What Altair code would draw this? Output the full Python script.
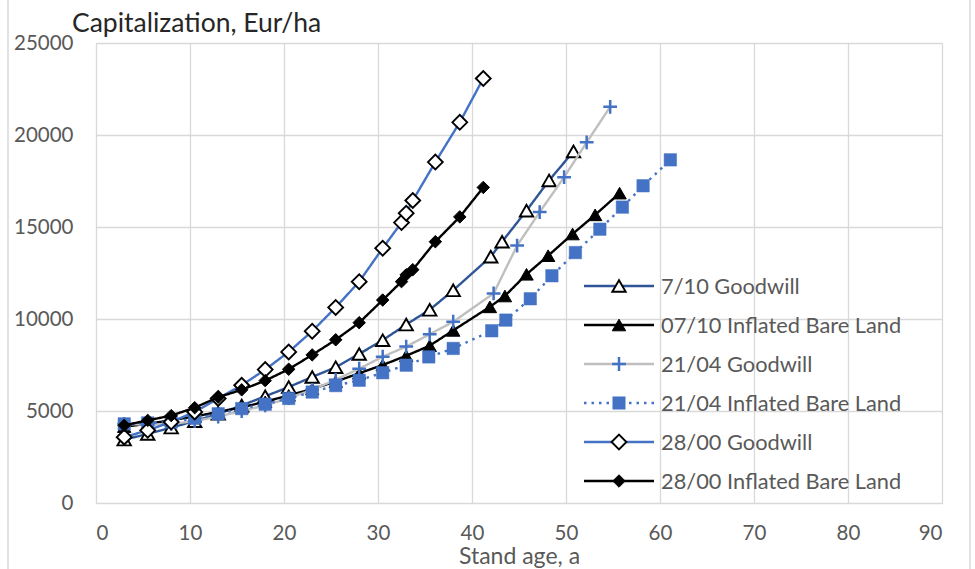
import altair as alt
import pandas as pd

# ---------------- data ----------------
series_names = [
    "7/10 Goodwill",
    "07/10 Inflated Bare Land",
    "21/04 Goodwill",
    "21/04 Inflated Bare Land",
    "28/00 Goodwill",
    "28/00 Inflated Bare Land",
]

age_7_gw = [3, 5.5, 8, 10.5, 13, 15.5, 18, 20.5, 23, 25.5, 28, 30.5, 33, 35.5, 38, 42, 43.2, 45.8, 48.2, 50.8]
cap_7_gw = [3450, 3750, 4100, 4450, 4850, 5300, 5800, 6300, 6850, 7380, 8100, 8850, 9700, 10500, 11560, 13390, 14200, 15890, 17530, 19110]

age_7_ibl = [3, 5.5, 8, 10.5, 13, 15.5, 18, 20.5, 23, 25.5, 28, 30.5, 33, 35.5, 38, 41.9, 43.5, 45.8, 48.1, 50.7, 53.1, 55.7]
cap_7_ibl = [4150, 4300, 4500, 4700, 4950, 5200, 5500, 5850, 6200, 6600, 7050, 7500, 8000, 8550, 9380, 10660, 11250, 12430, 13440, 14620, 15660, 16840]

age_21_gw = [3, 5.5, 8, 10.5, 13, 15.5, 18, 20.5, 23, 25.5, 28, 30.5, 33, 35.5, 38, 42.3, 44.8, 47.2, 49.8, 52.2, 54.7]
cap_21_gw = [4300, 4250, 4300, 4450, 4700, 5000, 5300, 5700, 6150, 6700, 7300, 7950, 8500, 9170, 9850, 11390, 13990, 15810, 17710, 19600, 21530]

age_21_ibl = [3, 5.5, 8, 10.5, 13, 15.5, 18, 20.5, 23, 25.5, 28, 30.5, 33, 35.4, 38, 42.1, 43.6, 46.2, 48.5, 51, 53.6, 56, 58.2, 61.1]
cap_21_ibl = [4300, 4350, 4400, 4600, 4850, 5130, 5370, 5680, 6030, 6380, 6670, 7080, 7490, 7940, 8400, 9360, 9940, 11100, 12350, 13610, 14880, 16080, 17240, 18650]

age_28_gw = [3, 5.5, 8, 10.5, 13, 15.5, 18, 20.5, 23, 25.5, 28, 30.5, 32.5, 33, 33.7, 36.1, 38.7, 41.2]
cap_28_gw = [3580, 3950, 4400, 4950, 5680, 6400, 7250, 8210, 9340, 10630, 12030, 13850, 15240, 15750, 16440, 18530, 20690, 23070]

age_28_ibl = [3, 5.5, 8, 10.5, 13, 15.5, 18, 20.5, 23, 25.5, 28, 30.5, 32.5, 33, 33.7, 36.1, 38.7, 41.2]
cap_28_ibl = [4220, 4490, 4750, 5180, 5750, 6150, 6650, 7270, 8050, 8870, 9800, 11030, 12030, 12400, 12680, 14200, 15550, 17150]

x_ticks = [0, 10, 20, 30, 40, 50, 60, 70, 80, 90]
y_ticks = [0, 5000, 10000, 15000, 20000, 25000]
chart_title = "Capitalization, Eur/ha"
x_title = "Stand age, a"

ages = [age_7_gw, age_7_ibl, age_21_gw, age_21_ibl, age_28_gw, age_28_ibl]
caps = [cap_7_gw, cap_7_ibl, cap_21_gw, cap_21_ibl, cap_28_gw, cap_28_ibl]

# ---------------- styles ----------------
BLUE = "#4472C4"
DARK_BLUE = "#2F5597"
PLUS = "M-1,0L1,0M0,-1L0,1"
styles = [
    dict(line=DARK_BLUE, dash=[1, 0], shape="triangle-up", fill="white", stroke="black", size=180, sw=1.9),
    dict(line="black", dash=[1, 0], shape="triangle-up", fill="black", stroke="black", size=180, sw=1.0),
    dict(line="#BFBFBF", dash=[1, 0], shape=PLUS, fill=None, stroke=BLUE, size=190, sw=2.5),
    dict(line=BLUE, dash=[2.5, 5], shape="square", fill=BLUE, stroke=BLUE, size=155, sw=0.5),
    dict(line=BLUE, dash=[1, 0], shape="diamond", fill="white", stroke="black", size=220, sw=1.9),
    dict(line="black", dash=[1, 0], shape="diamond", fill="black", stroke="black", size=155, sw=1.0),
]

FONT = "Lato"
TEXT_GREY = "#595959"
LINE_W = 2.4

xscale = alt.Scale(domain=[0, 90], nice=False, zero=False)
yscale = alt.Scale(domain=[0, 25000], nice=False)


def x_axis():
    return alt.Axis(values=x_ticks, title=x_title, grid=True, gridColor="#D9D9D9", gridWidth=1.3,
                    domain=False, ticks=False, labelFont=FONT, labelFontSize=20.5, labelColor=TEXT_GREY,
                    labelPadding=20, titleFont=FONT, titleFontSize=23, titleFontWeight="normal",
                    titleColor=TEXT_GREY, titlePadding=2)


def y_axis():
    return alt.Axis(values=y_ticks, format="d", title=None, grid=True, gridColor="#D9D9D9", gridWidth=1.3,
                    domain=False, ticks=False, labelFont=FONT, labelFontSize=20.5, labelColor=TEXT_GREY,
                    labelPadding=23)


def point_kwargs(st):
    pkw = dict(shape=st["shape"], size=st["size"], stroke=st["stroke"], strokeWidth=st["sw"], opacity=1)
    if st["fill"] is not None:
        pkw["fill"] = st["fill"]
        pkw["filled"] = True
    else:
        pkw["filled"] = False
        pkw["fill"] = "transparent"
    return pkw


layers = []
for i, (name, a, c, st) in enumerate(zip(series_names, ages, caps, styles)):
    df = pd.DataFrame({"age": a, "cap": c, "series": name})
    base = alt.Chart(df)
    enc = dict(
        x=alt.X("age:Q", scale=xscale, axis=x_axis()),
        y=alt.Y("cap:Q", scale=yscale, axis=y_axis()),
    )
    line = base.mark_line(color=st["line"], strokeWidth=LINE_W, strokeDash=st["dash"]).encode(**enc)
    pts = base.mark_point(**point_kwargs(st)).encode(**enc)
    layers += [line, pts]

# ---------------- legend (drawn inside the plot) ----------------
for i, (name, st) in enumerate(zip(series_names, styles)):
    ldf = pd.DataFrame({"series": [name]})
    yy = 243 + 39 * i
    lb = alt.Chart(ldf)
    layers.append(lb.mark_rule(color=st["line"], strokeWidth=LINE_W, strokeDash=st["dash"]).encode(
        x=alt.value(488), x2=alt.value(558), y=alt.value(yy)))
    layers.append(lb.mark_point(**point_kwargs(st)).encode(x=alt.value(523), y=alt.value(yy)))
    layers.append(lb.mark_text(align="left", baseline="middle", font=FONT, fontSize=21.8,
                               color=TEXT_GREY).encode(text="series:N", x=alt.value(565), y=alt.value(yy + 1)))

# chart title (top-left) and chart-area side borders
tdf = pd.DataFrame({"t": [chart_title]})
layers.append(alt.Chart(tdf).mark_text(align="left", baseline="alphabetic", font=FONT, fontSize=26.5,
                                       color="#262626").encode(text="t:N", x=alt.value(-24), y=alt.value(-11)))
border = pd.DataFrame({"k": [0]})
layers.append(alt.Chart(border).mark_rule(color="#D9D9D9", strokeWidth=1.5).encode(
    x=alt.value(-88), y=alt.value(-43), y2=alt.value(526)))
layers.append(alt.Chart(border).mark_rule(color="#D9D9D9", strokeWidth=1.5).encode(
    x=alt.value(874), y=alt.value(-43), y2=alt.value(526)))

chart = alt.layer(*layers).properties(
    width=846,
    height=460,
    padding={"left": 96, "top": 43, "right": 33, "bottom": 66},
    autosize=alt.AutoSizeParams(type="none"),
).configure_view(strokeWidth=0).configure(background="white")

chart.save("out.html", embed_options={"renderer": "svg", "actions": False})
